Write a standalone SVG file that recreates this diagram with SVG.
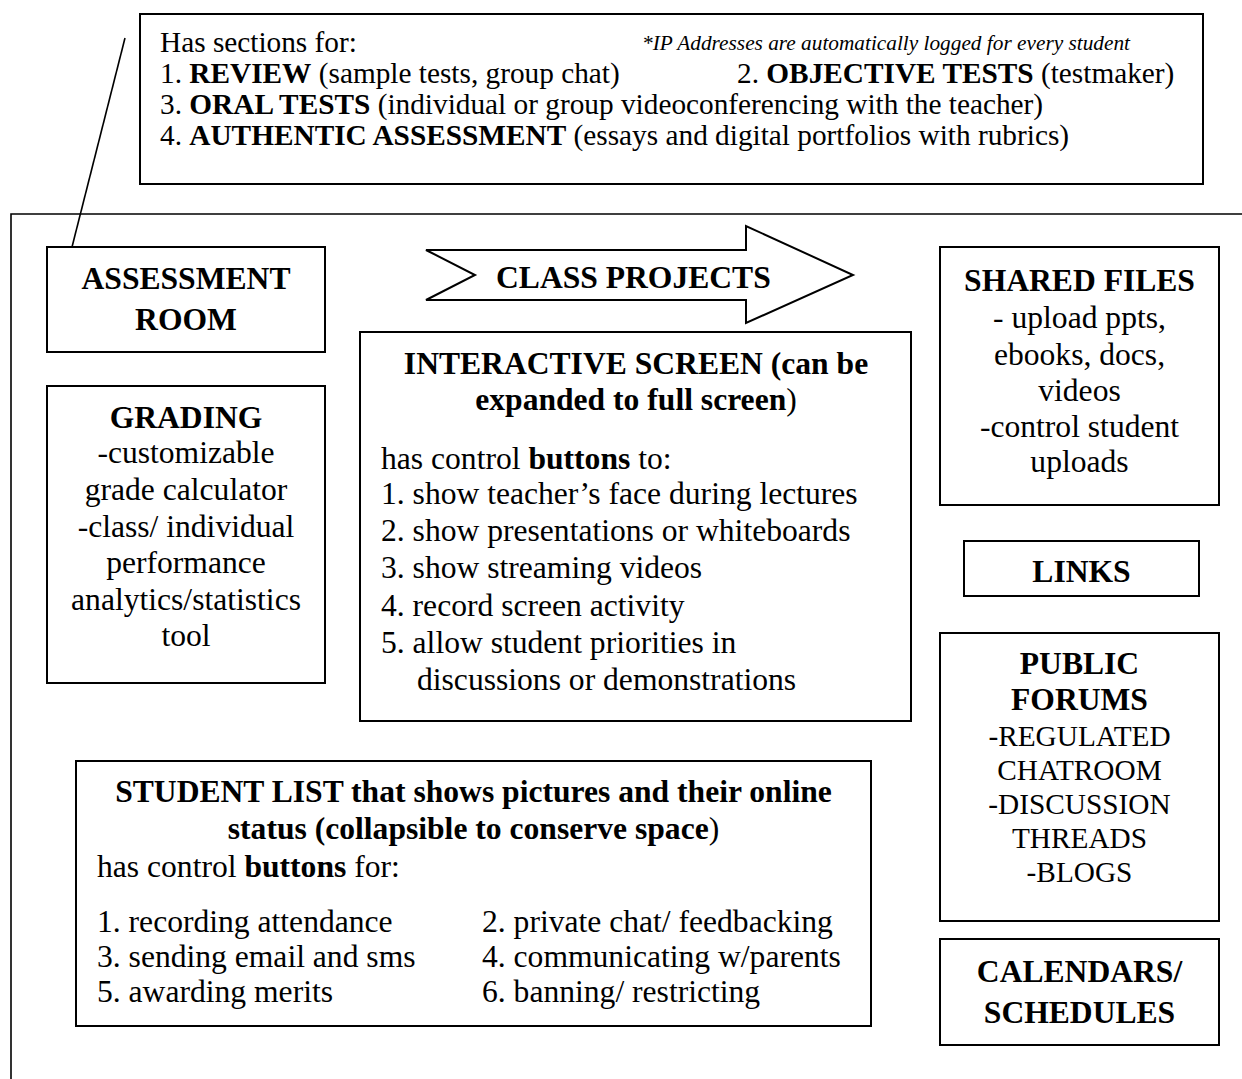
<svg xmlns="http://www.w3.org/2000/svg" width="1242" height="1079" viewBox="0 0 1242 1079">
  <style>
    .box { fill: #fff; stroke: #000; stroke-width: 2; }
    .ln { fill: none; stroke: #000; stroke-width: 1.6; }
    text { font-family: "Liberation Serif", "Times New Roman", serif; fill: #000; font-size: 31.6px; }
    .sm text { font-size: 29.3px; }
    .b { font-weight: bold; }
    .it { font-style: italic; font-size: 21.3px; }
    .mid { text-anchor: middle; }
  </style>
  <rect width="1242" height="1079" fill="#fff"/>

  <!-- page frame and callout leader -->
  <g id="connectors">
    <polyline class="ln" points="11,1079 11,214 1242,214"/>
    <line class="ln" x1="125" y1="38" x2="72" y2="247"/>
  </g>

  <!-- assessment sections callout -->
  <g id="sections-note">
    <rect class="box" x="140" y="14" width="1063" height="170"/>
    <g class="sm" transform="translate(160,0)">
      <text x="0" y="52">Has sections for:</text>
      <text x="0" y="83">1. <tspan class="b">REVIEW</tspan> (sample tests, group chat)</text>
      <text x="0" y="114">3. <tspan class="b">ORAL TESTS</tspan> (individual or group videoconferencing with the teacher)</text>
      <text x="0" y="145">4. <tspan class="b">AUTHENTIC ASSESSMENT</tspan> (essays and digital portfolios with rubrics)</text>
    </g>
    <g class="sm" transform="translate(737,0)">
      <text x="0" y="83">2. <tspan class="b">OBJECTIVE TESTS</tspan> (testmaker)</text>
    </g>
    <g transform="translate(642,0)">
      <text class="it" x="0" y="50">*IP Addresses are automatically logged for every student</text>
    </g>
  </g>

  <g id="assessment-room">
    <rect class="box" x="47" y="247" width="278" height="105"/>
    <g class="mid" transform="translate(186,0)">
      <text class="b" x="0" y="289">ASSESSMENT</text>
      <text class="b" x="0" y="330">ROOM</text>
    </g>
  </g>

  <g id="class-projects">
    <polygon class="box" points="426,250 746,250 746,226 853,275 746,323 746,300 426,300 475,275"/>
    <g transform="translate(496,0)">
      <text class="b" x="0" y="288">CLASS PROJECTS</text>
    </g>
  </g>

  <g id="grading">
    <rect class="box" x="47" y="386" width="278" height="297"/>
    <g class="mid" transform="translate(186,0)">
      <text class="b" x="0" y="428">GRADING</text>
      <text x="0" y="463">-customizable</text>
      <text x="0" y="500">grade calculator</text>
      <text x="0" y="537">-class/ individual</text>
      <text x="0" y="573">performance</text>
      <text x="0" y="610">analytics/statistics</text>
      <text x="0" y="646">tool</text>
    </g>
  </g>

  <g id="interactive-screen">
    <rect class="box" x="360" y="332" width="551" height="389"/>
    <g class="mid" transform="translate(636,0)">
      <text class="b" x="0" y="374">INTERACTIVE SCREEN (can be</text>
      <text x="0" y="410"><tspan class="b">expanded to full screen</tspan>)</text>
    </g>
    <g transform="translate(381,0)">
      <text x="0" y="469">has control <tspan class="b">buttons</tspan> to:</text>
      <text x="0" y="504">1. show teacher’s face during lectures</text>
      <text x="0" y="541">2. show presentations or whiteboards</text>
      <text x="0" y="578">3. show streaming videos</text>
      <text x="0" y="616">4. record screen activity</text>
      <text x="0" y="653">5. allow student priorities in</text>
    </g>
    <g transform="translate(417,0)">
      <text x="0" y="690">discussions or demonstrations</text>
    </g>
  </g>

  <g id="shared-files">
    <rect class="box" x="940" y="247" width="279" height="258"/>
    <g class="mid" transform="translate(1079.5,0)">
      <text class="b" x="0" y="291">SHARED FILES</text>
      <text x="0" y="328">- upload ppts,</text>
      <text x="0" y="365">ebooks, docs,</text>
      <text x="0" y="401">videos</text>
      <text x="0" y="437">-control student</text>
      <text x="0" y="472">uploads</text>
    </g>
  </g>

  <g id="links">
    <rect class="box" x="964" y="541" width="235" height="55"/>
    <g class="mid" transform="translate(1081.5,0)">
      <text class="b" x="0" y="582">LINKS</text>
    </g>
  </g>

  <g id="public-forums">
    <rect class="box" x="940" y="633" width="279" height="288"/>
    <g class="mid" transform="translate(1079.5,0)">
      <text class="b" x="0" y="674">PUBLIC</text>
      <text class="b" x="0" y="710">FORUMS</text>
    </g>
    <g class="mid sm" transform="translate(1079.5,0)">
      <text x="0" y="746">-REGULATED</text>
      <text x="0" y="780">CHATROOM</text>
      <text x="0" y="814">-DISCUSSION</text>
      <text x="0" y="848">THREADS</text>
      <text x="0" y="882">-BLOGS</text>
    </g>
  </g>

  <g id="calendars">
    <rect class="box" x="940" y="939" width="279" height="106"/>
    <g class="mid" transform="translate(1079.5,0)">
      <text class="b" x="0" y="982">CALENDARS/</text>
      <text class="b" x="0" y="1023">SCHEDULES</text>
    </g>
  </g>

  <g id="student-list">
    <rect class="box" x="76" y="761" width="795" height="265"/>
    <g class="mid" transform="translate(473.5,0)">
      <text class="b" x="0" y="802">STUDENT LIST that shows pictures and their online</text>
      <text x="0" y="839"><tspan class="b">status (collapsible to conserve space</tspan>)</text>
    </g>
    <g transform="translate(97,0)">
      <text x="0" y="877">has control <tspan class="b">buttons</tspan> for:</text>
      <text x="0" y="932">1. recording attendance</text>
      <text x="0" y="967">3. sending email and sms</text>
      <text x="0" y="1002">5. awarding merits</text>
    </g>
    <g transform="translate(482,0)">
      <text x="0" y="932">2. private chat/ feedbacking</text>
      <text x="0" y="967">4. communicating w/parents</text>
      <text x="0" y="1002">6. banning/ restricting</text>
    </g>
  </g>
</svg>
